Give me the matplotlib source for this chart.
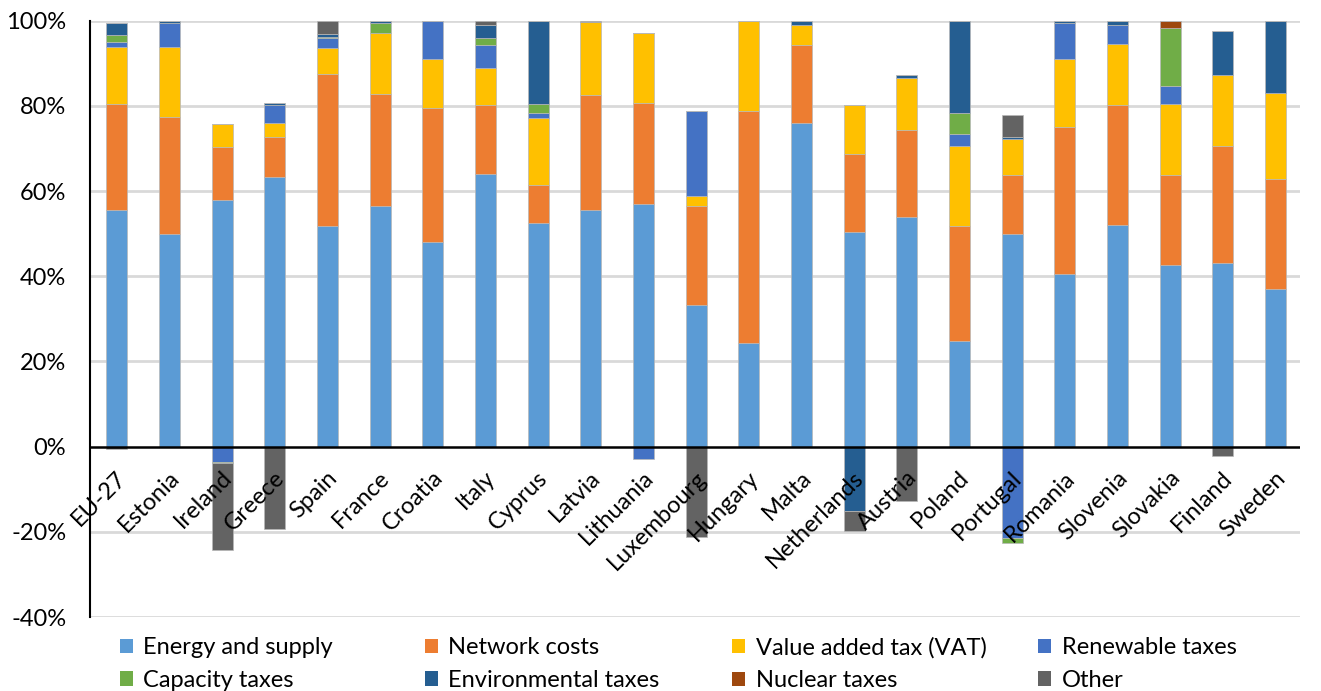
import matplotlib
matplotlib.use("Agg")
import matplotlib.pyplot as plt
import numpy as np
from matplotlib.patches import Patch

plt.rcParams['font.family'] = ['Lato', 'DejaVu Sans']

countries = ["EU-27", "Estonia", "Ireland", "Greece", "Spain", "France", "Croatia", "Italy",
             "Cyprus", "Latvia", "Lithuania", "Luxembourg", "Hungary", "Malta", "Netherlands",
             "Austria", "Poland", "Portugal", "Romania", "Slovenia", "Slovakia", "Finland", "Sweden"]

energy = [55.6, 50.0, 58.0, 63.4, 51.9, 56.6, 48.1, 64.1, 52.6, 55.6, 57.0, 33.3, 24.4, 76.1,
          50.5, 54.0, 24.9, 50.0, 40.6, 52.1, 42.7, 43.2, 37.1]
network = [24.9, 27.3, 12.3, 9.2, 35.5, 26.2, 31.5, 16.0, 8.9, 26.9, 23.8, 23.3, 54.3, 18.1,
           18.3, 20.3, 27.0, 13.8, 34.4, 28.0, 21.1, 27.4, 25.8]
vat = [13.4, 16.6, 5.5, 3.5, 6.2, 14.3, 11.4, 8.8, 15.7, 17.3, 16.3, 2.3, 21.3, 4.7,
       11.3, 12.3, 18.6, 8.5, 16.0, 14.4, 16.6, 16.6, 20.1]
renewable = [1.2, 5.6, -3.6, 4.1, 2.4, 0.0, 9.0, 5.5, 1.2, 0.0, -2.9, 19.8, 0.0, 0.0,
             0.0, 0.0, 2.9, -21.4, 8.5, 4.6, 4.2, 0.0, 0.0]
capacity = [1.5, 0.0, -0.3, 0.0, 0.2, 2.3, 0.0, 1.6, 2.0, 0.0, 0.0, 0.0, 0.0, 0.0,
            0.0, 0.0, 4.9, -1.1, 0.0, 0.0, 13.7, 0.0, 0.0]
environmental = [2.8, 0.5, 0.0, 0.5, 0.6, 0.6, 0.0, 3.1, 19.6, 0.0, 0.0, 0.0, 0.0, 1.1,
                 -15.0, 0.6, 21.7, 0.3, 0.5, 0.9, 0.0, 10.5, 17.0]
nuclear = [0.0, 0.0, 0.0, 0.0, 0.0, 0.0, 0.0, 0.0, 0.0, 0.0, 0.0, 0.0, 0.0, 0.0,
           0.0, 0.0, 0.0, 0.0, 0.0, 0.0, 1.7, 0.0, 0.0]
other = [-0.5, 0.0, -20.3, -19.3, 3.2, 0.0, 0.0, 0.9, 0.0, 0.2, 0.0, -21.3, 0.0, 0.0,
         -4.7, -12.8, 0.0, 5.3, 0.0, 0.0, 0.0, -2.3, 0.0]

series_names = ["Energy and supply", "Network costs", "Value added tax (VAT)", "Renewable taxes",
                "Capacity taxes", "Environmental taxes", "Nuclear taxes", "Other"]
series_values = [energy, network, vat, renewable, capacity, environmental, nuclear, other]
colors = ["#5B9BD5", "#ED7D31", "#FFC000", "#4472C4", "#70AD47", "#255E91", "#9E480E", "#636363"]

yticks = [-40, -20, 0, 20, 40, 60, 80, 100]
ytick_labels = ["-40%", "-20%", "0%", "20%", "40%", "60%", "80%", "100%"]

fig = plt.figure(figsize=(13.21, 6.91), dpi=100)
ax = fig.add_axes([0.068, 0.107, 0.916, 0.863])

x = np.arange(len(countries))
pos_base = np.zeros(len(countries))
neg_base = np.zeros(len(countries))
for name, vals, col in zip(series_names, series_values, colors):
    v = np.array(vals, dtype=float)
    bottoms = np.where(v >= 0, pos_base, neg_base)
    ax.bar(x, v, width=0.4, bottom=bottoms, color=col, edgecolor="#b8b8b8",
           linewidth=0.5, zorder=3)
    pos_base = pos_base + np.where(v > 0, v, 0)
    neg_base = neg_base + np.where(v < 0, v, 0)

ax.set_xlim(-0.51, len(countries) - 0.54)
ax.set_ylim(-40, 100)
ax.set_yticks(yticks)
ax.set_yticklabels(ytick_labels, fontsize=17)
ax.tick_params(axis='y', length=0, pad=17)
ax.set_xticks([])
for yv in yticks:
    if yv != 0:
        ax.axhline(yv, color="#d9d9d9", linewidth=2.0, zorder=1)
ax.axhline(0, color="black", linewidth=1.8, zorder=4)
for s in ["top", "right", "bottom"]:
    ax.spines[s].set_visible(False)
ax.spines["left"].set_color("black")
ax.spines["left"].set_linewidth(1.5)

for i, c in enumerate(countries):
    ax.text(i - 0.02, -4.8, c, rotation=45, ha="right", va="top",
            rotation_mode="anchor", fontsize=17, zorder=5)

handles = [Patch(facecolor=c) for c in colors]
col_x = [0.0905, 0.3215, 0.5545, 0.786]
for k in range(4):
    hs = [handles[k], handles[k + 4]]
    ls = [series_names[k], series_names[k + 4]]
    fig.legend(hs, ls, loc="upper left", bbox_to_anchor=(col_x[k], 0.078),
               ncol=1, frameon=False, fontsize=17, handlelength=0.55,
               handleheight=0.55, handletextpad=0.45, labelspacing=0.5,
               borderaxespad=0, borderpad=0)

fig.savefig("out.png", dpi=100)
